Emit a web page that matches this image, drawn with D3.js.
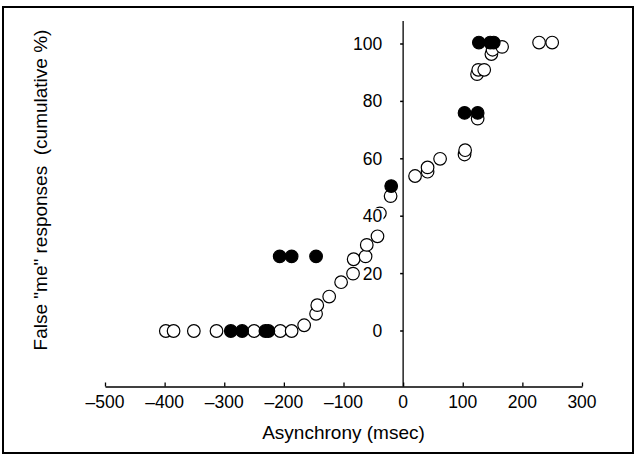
<!DOCTYPE html>
<html>
<head>
<meta charset="utf-8">
<script src="https://cdn.jsdelivr.net/npm/d3@7"></script>
<style>
  body { margin: 0; background: #fff; }
  svg text { font-family: "Liberation Sans", Arial, sans-serif; fill: #000; white-space: pre; }
</style>
</head>
<body>
<div id="chart"></div>
<script>
// ============================================================================
// DATA
// ============================================================================

// open circles: [asynchrony msec, cumulative %]
const openX = [-398, -385, -351, -313, -250, -206, -187, -166, -146, -144, -124,
               -104, -84, -83, -63, -61, -43, -39, -21, 20, 41, 41, 62,
               103, 104, 125, 124, 126, 136, 148, 150, 166, 228, 250];
const openY = [0, 0, 0, 0, 0, 0, 0, 2, 6, 9, 12,
               17, 20, 25, 26, 30, 33, 41, 47, 54, 55.5, 57, 60,
               61.5, 63, 74, 89.5, 91, 91, 96.5, 98, 99, 100.5, 100.5];

// filled circles
const filledX = [-289, -270, -231, -226, -207, -187, -146, -20, 103, 125, 127, 146, 152];
const filledY = [0, 0, 0, 0, 26, 26, 26, 50.5, 76, 76, 100.5, 100.5, 100.5];

const xTicks = [-500, -400, -300, -200, -100, 0, 100, 200, 300];
const yTicks = [0, 20, 40, 60, 80, 100];

// ============================================================================
// SETUP
// ============================================================================

const W = 637, H = 456;

const svg = d3.select("#chart").append("svg")
    .attr("width", W)
    .attr("height", H);

// outer frame
svg.append("rect")
    .attr("x", 3).attr("y", 7)
    .attr("width", 630).attr("height", 446)
    .attr("fill", "none")
    .attr("stroke", "#000")
    .attr("stroke-width", 2);

const x = d3.scaleLinear().domain([-500, 300]).range([105, 582]);
const y = d3.scaleLinear().domain([0, 100]).range([331, 44]);

const axisY = 386.5;   // pixel row of the x axis
const yTop  = 21;      // top of the vertical axis

// ============================================================================
// AXES (lines)
// ============================================================================

const xAxisG = svg.append("g")
    .attr("transform", `translate(0,${axisY})`)
    .call(d3.axisTop(x).tickValues(xTicks).tickSize(4).tickSizeOuter(0).tickFormat(""));

xAxisG.select(".domain").attr("stroke-width", 1.3);
xAxisG.selectAll(".tick line").attr("stroke-width", 1.3);

svg.append("line")
    .attr("x1", x(0)).attr("x2", x(0))
    .attr("y1", yTop).attr("y2", axisY)
    .attr("stroke", "#000")
    .attr("stroke-width", 1.3);

svg.selectAll("line.ytick")
    .data(yTicks)
    .join("line")
    .attr("class", "ytick")
    .attr("x1", x(0) - 3).attr("x2", x(0))
    .attr("y1", d => y(d)).attr("y2", d => y(d))
    .attr("stroke", "#000")
    .attr("stroke-width", 1.5);

// ============================================================================
// POINTS
// ============================================================================

const R = 6.3;

svg.selectAll("circle.open")
    .data(d3.zip(openX, openY))
    .join("circle")
    .attr("class", "open")
    .attr("cx", d => x(d[0]))
    .attr("cy", d => y(d[1]))
    .attr("r", R)
    .attr("fill", "#fff")
    .attr("stroke", "#000")
    .attr("stroke-width", 1.2);

svg.selectAll("circle.filled")
    .data(d3.zip(filledX, filledY))
    .join("circle")
    .attr("class", "filled")
    .attr("cx", d => x(d[0]))
    .attr("cy", d => y(d[1]))
    .attr("r", R)
    .attr("fill", "#000")
    .attr("stroke", "#000")
    .attr("stroke-width", 1.2);

// ============================================================================
// TICK LABELS (y labels sit on white boxes, covering points behind them)
// ============================================================================

const yLab = svg.selectAll("g.ylab")
    .data(yTicks)
    .join("g")
    .attr("class", "ylab");

yLab.append("text")
    .attr("x", x(0) - 21)
    .attr("y", d => y(d) + 6)
    .attr("text-anchor", "end")
    .style("font-size", "17.5px")
    .text(d => d);

yLab.each(function () {
    const t = d3.select(this).select("text");
    const b = t.node().getBBox();
    d3.select(this).insert("rect", "text")
        .attr("x", b.x - 1).attr("y", b.y + 2)
        .attr("width", b.width + 2).attr("height", b.height - 4)
        .attr("fill", "#fff");
});

svg.selectAll("text.xlab")
    .data(xTicks)
    .join("text")
    .attr("class", "xlab")
    .attr("x", d => x(d))
    .attr("y", axisY + 21)
    .attr("text-anchor", "middle")
    .style("font-size", "17.5px")
    .text(d => d < 0 ? "\u2013" + Math.abs(d) : d);

// ============================================================================
// AXIS TITLES
// ============================================================================

svg.append("text")
    .attr("x", (x(-500) + x(300)) / 2)
    .attr("y", 439)
    .attr("text-anchor", "middle")
    .style("font-size", "19px")
    .text("Asynchrony (msec)");

svg.append("text")
    .attr("transform", "translate(47,190) rotate(-90)")
    .attr("text-anchor", "middle")
    .style("font-size", "19px")
    .text("False \"me\" responses  (cumulative %)");
</script>
</body>
</html>
